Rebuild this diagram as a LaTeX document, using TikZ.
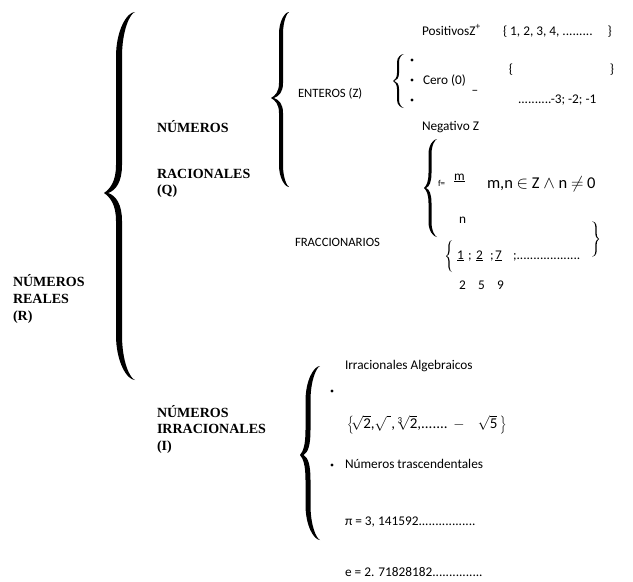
\documentclass[tikz,border=0pt]{standalone}
\usepackage{fontspec}
\setmainfont{Carlito}
\newfontfamily\headfont{Liberation Serif}
% #1 end x, #2 top y, #3 bottom y, #4 stem x, #5 tip x, #6 tip y, #7 width, #8 end curl, #9 tip curl
\newcommand\myBrace[9]{%
 \fill (#1,#2)
 .. controls ({(#4)+0.5*((#1)-(#4))},{#2}) and ({(#4)-(#7)/2},{(#2)+0.4*(#8)}) .. ({(#4)-(#7)/2},{(#2)+(#8)})
 -- ({(#4)-(#7)/2},{(#6)-(#9)})
 .. controls ({(#4)-(#7)/2},{(#6)-0.4*(#9)}) and ({(#5)+0.4*((#4)-(#5))},{(#6)-0.15*(#9)}) .. (#5,#6)
 .. controls ({(#5)+0.4*((#4)-(#5))},{(#6)+0.15*(#9)}) and ({(#4)-(#7)/2},{(#6)+0.4*(#9)}) .. ({(#4)-(#7)/2},{(#6)+(#9)})
 -- ({(#4)-(#7)/2},{(#3)-(#8)})
 .. controls ({(#4)-(#7)/2},{(#3)-0.4*(#8)}) and ({(#4)+0.5*((#1)-(#4))},{#3}) .. (#1,#3)
 .. controls ({(#4)+0.5*((#1)-(#4))+(#7)/2},{(#3)-(#7)/4}) and ({(#4)+(#7)/2},{(#3)-0.4*(#8)}) .. ({(#4)+(#7)/2},{(#3)-(#8)})
 -- ({(#4)+(#7)/2},{(#6)+(#9)})
 .. controls ({(#4)+(#7)/2},{(#6)+0.4*(#9)}) and ({(#5)+(#7)+0.4*((#4)-(#5))},{(#6)+0.1*(#9)}) .. ({(#5)+0.7*(#7)},{#6})
 .. controls ({(#5)+(#7)+0.4*((#4)-(#5))},{(#6)-0.1*(#9)}) and ({(#4)+(#7)/2},{(#6)-0.4*(#9)}) .. ({(#4)+(#7)/2},{(#6)-(#9)})
 -- ({(#4)+(#7)/2},{(#2)+(#8)})
 .. controls ({(#4)+(#7)/2},{(#2)+0.4*(#8)}) and ({(#4)+0.5*((#1)-(#4))+(#7)/2},{(#2)+(#7)/4}) .. (#1,#2) -- cycle;}
\begin{document}
\begin{tikzpicture}[x=1pt,y=-1pt,
  every node/.style={inner sep=0pt, outer sep=0pt, anchor=base west, font=\fontsize{13.3}{15}\selectfont},
  head/.style={font=\headfont\bfseries\fontsize{14}{16}\selectfont},
  caps/.style={font=\fontsize{12.7}{15}\selectfont},
  bigmath/.style={font=\fontsize{16.5}{18}\selectfont},
  tiny/.style={font=\fontsize{9}{10}\selectfont},
  dotnode/.style={circle, fill=black, minimum size=3.4pt, inner sep=0pt, anchor=center}]
\useasboundingbox (0,0) rectangle (633,582);
\fill[white] (0,0) rectangle (633,582);

% braces
\myBrace{135}{12}{380}{119}{104}{193}{6}{45}{28}
\myBrace{289}{12}{187}{281}{271}{98}{4}{22}{15}
\myBrace{404}{54}{108}{398}{393}{81}{2}{8}{8}
\myBrace{437}{139}{237}{430}{424}{188}{3}{15}{15}
\myBrace{452}{240}{272}{449}{446}{256}{1.2}{5}{5}
\begin{scope}[x=-1pt]
\myBrace{-592}{221}{257}{-596}{-599}{239}{1.3}{6}{6}
\end{scope}
\myBrace{320}{366}{540}{308}{300}{455}{5}{35}{25}

% headings
\node[head] (r1) at (13,286) {NÚMEROS};
\node[head] (r2) at (13,303) {REALES};
\node[head] (r3) at (13,320) {(R)};
\node[head] (q1) at (157,132) {NÚMEROS};
\node[head] (q2) at (157,178) {RACIONALES};
\node[head] (q3) at (157,194) {(Q)};
\node[head] (i1) at (157,417) {NÚMEROS};
\node[head] (i2) at (157,433) {IRRACIONALES};
\node[head] (i3) at (157,450) {(I)};

% enteros
\node[caps] (ent) at (298,97) {ENTEROS (Z)};
\node (pos) at (422,35) {PositivosZ\textsuperscript{+}};
\node (setp) at (503,35) {\{ 1, 2, 3, 4, .........~~~~~\}};
\node[dotnode] (b1) at (412,60) {};
\node[dotnode] (b2) at (412,80) {};
\node[dotnode] (b3) at (412,100) {};
\node (cero) at (423,84) {Cero (0)};
\node[anchor=center] (dash) at (475,92) {–};
\node[anchor=center] (lb) at (511,70) {\{};
\node[anchor=center] (rb) at (612,70) {\}};
\node (negs) at (518,103) {..........-3; -2; -1};
\node (negz) at (422,130) {Negativo Z};

% fraccionarios
\node[caps] (fra) at (295,246) {FRACCIONARIOS};
\node[tiny] (feq) at (438,186) {f=};
\node (m) at (454,180) {\underline{m}};
\node[bigmath] (cond) at (487,188) {m,n $\in$ Z $\wedge$ n $\neq$ 0};
\node (n) at (459,223) {n};
\node (f1) at (457,259) {\underline{1}};
\node (s1) at (468,259) {;};
\node (f2) at (476,259) {\underline{2}};
\node (s2) at (490,259) {;};
\node (f7) at (495,259) {\underline{7}};
\node (s3) at (513,259) {;...................};
\node (d2) at (459,289) {2};
\node (d5) at (478,289) {5};
\node (d9) at (497,289) {9};

% irracionales
\node (alg) at (345,369) {Irracionales Algebraicos};
\node[dotnode] (b4) at (332,391) {};
\node[font=\fontsize{15}{17}\selectfont, anchor=west] (set) at (347,425)
  {$\left\{\!\sqrt{\mbox{2}}\mbox{,}\sqrt{\phantom{i}}\mbox{,}\,{}^{\mbox{\fontsize{9}{9}\selectfont 3}}\!\!\sqrt{\mbox{2}}\mbox{,.......}\,-\ \ \ \sqrt{\mbox{5}}\,\right\}$};
\node[dotnode] (b5) at (332,465) {};
\node (tras) at (345,468) {Números trascendentales};
\node (pi) at (345,525) {π = 3, 141592.................};
\node (e) at (345,576) {e = 2. 71828182...............};
\end{tikzpicture}
\end{document}
